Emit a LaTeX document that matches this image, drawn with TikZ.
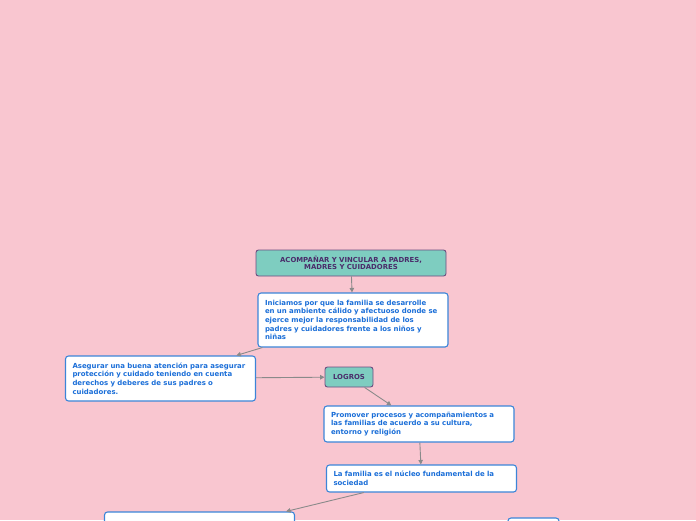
\documentclass[tikz,border=0pt]{standalone}
\usepackage{fontspec}
\setmainfont{DejaVu Sans}
\usetikzlibrary{arrows.meta}

\definecolor{fondo}{HTML}{F9C6D0}
\definecolor{verdeagua}{HTML}{7ECDC0}
\definecolor{morado}{HTML}{6B4D80}
\definecolor{moradotxt}{HTML}{4A2C6A}
\definecolor{azul}{HTML}{3C85D8}
\definecolor{azultxt}{HTML}{1A6ED8}
\definecolor{gris}{HTML}{8A8A8A}

\tikzset{
  tema/.style={draw=morado, fill=verdeagua, line width=0.9pt, rounded corners=2.5pt,
    text=moradotxt, font=\fontsize{6.9}{7.6}\selectfont\bfseries, align=center, inner sep=0pt},
  idea/.style={draw=azul, fill=white, line width=1.1pt, rounded corners=3pt,
    text=azultxt, font=\fontsize{6.95}{8.7}\selectfont\bfseries, align=left,
    text width=176pt, inner xsep=7pt, inner ysep=0pt},
  flecha/.style={draw=gris, line width=0.9pt, -{Triangle[width=4.5pt,length=4.5pt]}}
}

\begin{document}
\begin{tikzpicture}[x=1pt,y=1pt]
    % Fondo
    \fill[fondo] (0,0) rectangle (696,-520);
    \useasboundingbox (0,0) rectangle (696,-520);

    % Tema central
    \node[tema, minimum width=190pt, minimum height=26pt] (titulo) at (351,-263)
        {ACOMPAÑAR Y VINCULAR A PADRES,\\MADRES Y CUIDADORES};

    % Ideas
    \node[idea, minimum height=54pt] (inicio) at (353,-320)
        {Iniciamos por que la familia se desarrolle\\en un ambiente cálido y afectuoso donde se\\ejerce mejor la responsabilidad de los\\padres y cuidadores frente a los niños y\\niñas};
    \node[idea, minimum height=45pt] (atencion) at (160.5,-378.5)
        {Asegurar una buena atención para asegurar\\protección y cuidado teniendo en cuenta\\derechos y deberes de sus padres o\\cuidadores.};
    \node[tema, minimum width=48pt, minimum height=20pt] (logros) at (349,-377) {LOGROS};
    \node[idea, minimum height=36pt] (procesos) at (419,-424)
        {Promover procesos y acompañamientos a\\las familias de acuerdo a su cultura,\\entorno y religión};
    \node[idea, minimum height=27pt] (nucleo) at (421.5,-478.5)
        {La familia es el núcleo fundamental de la\\sociedad};

    % Cajas cortadas abajo
    \node[idea, minimum height=41pt] (abajo) at (199.5,-532.5) {};
    \node[idea, text width=37pt, minimum height=30pt] (derecha) at (533.5,-533) {};

    % Conectores
    \draw[flecha] (titulo) -- (inicio);
    \draw[flecha] (inicio) -- (atencion);
    \draw[flecha] (atencion) -- (logros);
    \draw[flecha] (logros) -- (procesos);
    \draw[flecha] (procesos) -- (nucleo);
    \draw[flecha] (nucleo) -- (abajo);
\end{tikzpicture}
\end{document}
